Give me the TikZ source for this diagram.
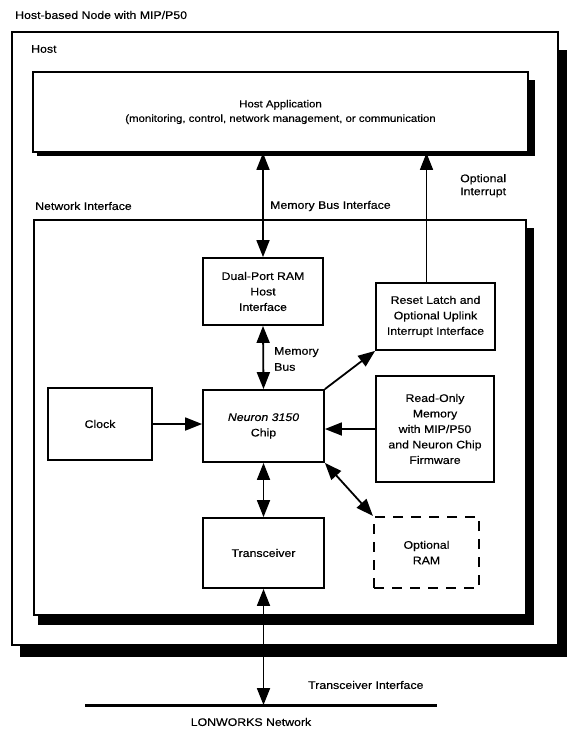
\documentclass[tikz,border=0pt]{standalone}
\usepackage{fontspec}
\setmainfont{Liberation Sans}[FakeStretch=1.12,FakeBold=0.4]
\usetikzlibrary{arrows.meta,calc}
\begin{document}
\begin{tikzpicture}[x=1pt,y=-1pt,
  box/.style={draw,line width=1.8pt,fill=white,align=center,inner sep=0pt,
    font=\fontsize{11}{15.5}\selectfont},
  lbl/.style={inner sep=0pt,align=left,font=\fontsize{11}{13}\selectfont},
  arr/.style={line width=1.8pt,-{Triangle[width=13pt,length=17pt]}},
  darr/.style={line width=1.8pt,{Triangle[width=13pt,length=17pt]}-{Triangle[width=13pt,length=17pt]}},
  shadowfill/.style={fill=black}]
\useasboundingbox (0,0) rectangle (571,731);

% outer host box
\fill[shadowfill] (20,50) rectangle (567,657);
\node[box,minimum width=546pt,minimum height=613pt] (host) at (285,338.5) {};
\node[lbl,anchor=west] (title) at (15,15) {Host-based Node with MIP/P50};
\node[lbl,anchor=west] (hostlbl) at (31,49) {Host};

% host application
\fill[shadowfill] (37,80) rectangle (535,156);
\node[box,minimum width=495pt,minimum height=80pt,font=\fontsize{10.2}{14.5}\selectfont] (hostapp) at (280.5,112)
  {Host Application\\(monitoring, control, network management, or communication};

% network interface
\fill[shadowfill] (38,228) rectangle (534,625);
\node[box,minimum width=492pt,minimum height=395pt] (netif) at (280,417.5) {};
\node[lbl,anchor=west] (netlbl) at (35,206) {Network Interface};
\node[lbl,anchor=west] (mbilbl) at (270,206) {Memory Bus Interface};
\node[lbl,anchor=north west] (intlbl) at (460,174) {Optional\\Interrupt};

% inner blocks
\node[box,minimum width=120pt,minimum height=67pt] (dpram) at (263,291.5) {Dual-Port RAM\\Host\\Interface};
\node[box,minimum width=119pt,minimum height=67pt] (reset) at (435.5,316.5) {Reset Latch and\\Optional Uplink\\Interrupt Interface};
\node[box,minimum width=104pt,minimum height=72pt] (clock) at (100,424) {Clock};
\node[box,minimum width=121pt,minimum height=72pt] (chip) at (263.5,426) {\itshape Neuron 3150\\Chip};
\node[box,minimum width=118pt,minimum height=106pt] (rom) at (435,429) {Read-Only\\Memory\\with MIP/P50\\and Neuron Chip\\Firmware};
\node[box,minimum width=121pt,minimum height=70pt] (trans) at (263.5,553) {Transceiver};
\node[box,dash pattern=on 10pt off 8pt,line width=2.2pt,minimum width=105pt,minimum height=71pt] (optram) at (426.5,552.5) {Optional\\RAM};

\node[lbl,anchor=west] (mblbl) at (274,359) {Memory\\[3pt]Bus};

% network line
\coordinate (nl) at (85,705);
\coordinate (nr) at (437,705);
\draw[line width=3pt] (nl) -- (nr);
\node[lbl,anchor=west] (tilbl) at (308,685) {Transceiver Interface};
\node[lbl] (lonlbl) at (251,722) {LONWORKS Network};

% connectors
\draw[darr] (dpram.north) -- (dpram.north |- hostapp.south);
\coordinate (ri) at ($(reset.north)+(-9,0)$);
\draw[arr,line width=1.5pt] (ri) -- (ri |- hostapp.south);
\draw[darr] (dpram.south) -- (chip.north);
\draw[arr] (chip.north east) -- (reset.south west);
\draw[arr] (clock.east) -- (clock.east -| chip.west);
\draw[arr] (rom.west) -- (rom.west -| chip.east);
\draw[darr] (chip.south) -- (trans.north);
\draw[darr] (chip.south east) -- (optram.north west);
\draw[darr] (trans.south) -- (trans.south |- nl);
\end{tikzpicture}
\end{document}
